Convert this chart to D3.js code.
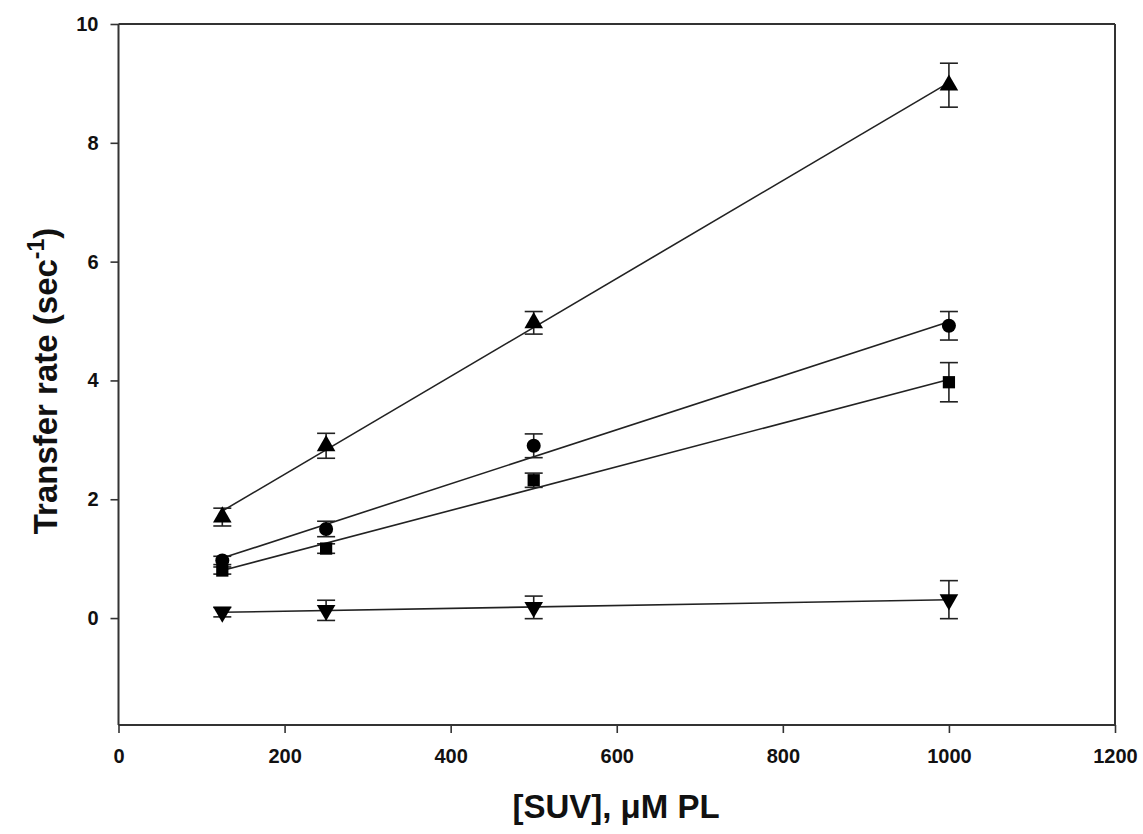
<!DOCTYPE html>
<html><head><meta charset="utf-8">
<script src="https://cdn.jsdelivr.net/npm/d3@7"></script>
<style>body{margin:0;background:#fff}svg{display:block}</style>
</head><body>
<svg id="c" width="1143" height="834"></svg>
<script>
const xValues = [125, 250, 500, 1000];
const triUp   = [1.70, 2.90, 4.97, 8.97];
const triUpErr = [0.15, 0.21, 0.19, 0.37];
const circle  = [0.97, 1.50, 2.90, 4.92];
const circleErr = [0.07, 0.13, 0.20, 0.24];
const square  = [0.80, 1.17, 2.32, 3.97];
const squareErr = [0.06, 0.08, 0.12, 0.33];
const triDown = [0.10, 0.13, 0.18, 0.31];
const triDownErr = [0.08, 0.17, 0.19, 0.32];
const xTicks = [0, 200, 400, 600, 800, 1000, 1200];
const yTicks = [0, 2, 4, 6, 8, 10];

const svg = d3.select("#c");
const x = d3.scaleLinear().domain([0, 1200]).range([118.5, 1115]);
const y = d3.scaleLinear().domain([-1.8, 10]).range([725, 24]);
const font = "'Liberation Sans', Arial, sans-serif";

// frame
const g = svg.append("g");
g.append("line").attr("x1", x(0)).attr("x2", x(1200)).attr("y1", y(10)).attr("y2", y(10)).attr("stroke", "#333").attr("stroke-width", 2);
g.append("line").attr("x1", x(1200)).attr("x2", x(1200)).attr("y1", y(10)).attr("y2", y(-1.8)).attr("stroke", "#333").attr("stroke-width", 2);

const xAxis = svg.append("g").attr("transform", `translate(0,${y(-1.8)})`)
  .call(d3.axisBottom(x).tickValues(xTicks).tickSize(8).tickPadding(16).tickFormat(d3.format("d")));
const yAxis = svg.append("g").attr("transform", `translate(${x(0)},0)`)
  .call(d3.axisLeft(y).tickValues(yTicks).tickSize(8).tickPadding(12).tickFormat(d3.format("d")));
[xAxis, yAxis].forEach(a => {
  a.select(".domain").attr("stroke", "#333").attr("stroke-width", 2);
  a.selectAll(".tick line").attr("stroke", "#333").attr("stroke-width", 1.6);
  a.selectAll(".tick text").attr("fill", "#111").style("font-family", font).style("font-weight", "bold").style("font-size", "20px");
});
xAxis.select(".domain").attr("d", `M${x(0)},0H${x(1200)}`);
yAxis.select(".domain").attr("d", `M0,${y(-1.8)}V${y(10)}`);

function fit(xs, ys) {
  const mx = d3.mean(xs), my = d3.mean(ys);
  let sxy = 0, sxx = 0;
  xs.forEach((v, i) => { sxy += (v - mx) * (ys[i] - my); sxx += (v - mx) ** 2; });
  const b = sxy / sxx; return [b, my - b * mx];
}

const series = [
  {vals: triUp, err: triUpErr, sym: d3.symbolTriangle, size: 150, rot: 0},
  {vals: circle, err: circleErr, sym: d3.symbolCircle, size: 155, rot: 0},
  {vals: square, err: squareErr, sym: d3.symbolSquare, size: 150, rot: 0},
  {vals: triDown, err: triDownErr, sym: d3.symbolTriangle, size: 150, rot: 180},
];

series.forEach(s => {
  const [b, a] = fit(xValues, s.vals);
  const x0 = d3.min(xValues), x1 = d3.max(xValues);
  svg.append("line").attr("x1", x(x0)).attr("y1", y(a + b * x0)).attr("x2", x(x1)).attr("y2", y(a + b * x1))
    .attr("stroke", "#222").attr("stroke-width", 1.6);
  const pg = svg.append("g");
  xValues.forEach((xv, i) => {
    const cx = x(xv), lo = y(s.vals[i] - s.err[i]), hi = y(s.vals[i] + s.err[i]);
    pg.append("line").attr("x1", cx).attr("x2", cx).attr("y1", lo).attr("y2", hi).attr("stroke", "#222").attr("stroke-width", 1.6);
    [lo, hi].forEach(yy => pg.append("line").attr("x1", cx - 9).attr("x2", cx + 9).attr("y1", yy).attr("y2", yy).attr("stroke", "#222").attr("stroke-width", 1.6));
    pg.append("path").attr("d", d3.symbol().type(s.sym).size(s.size)())
      .attr("transform", `translate(${cx},${y(s.vals[i])}) rotate(${s.rot})`).attr("fill", "#000");
  });
});

// axis titles
svg.append("text").attr("x", 616).attr("y", 818).attr("text-anchor", "middle")
  .style("font-family", font).style("font-weight", "bold").style("font-size", "33px").attr("fill", "#111")
  .text("[SUV], \u03bcM PL");
const yt = svg.append("text").attr("transform", "translate(57,381) rotate(-90)").attr("text-anchor", "middle")
  .style("font-family", font).style("font-weight", "bold").style("font-size", "33px").attr("fill", "#111");
yt.append("tspan").text("Transfer rate (sec");
yt.append("tspan").attr("dy", -13).style("font-size", "23px").text("-1");
yt.append("tspan").attr("dy", 13).text(")");
</script>
</body></html>
